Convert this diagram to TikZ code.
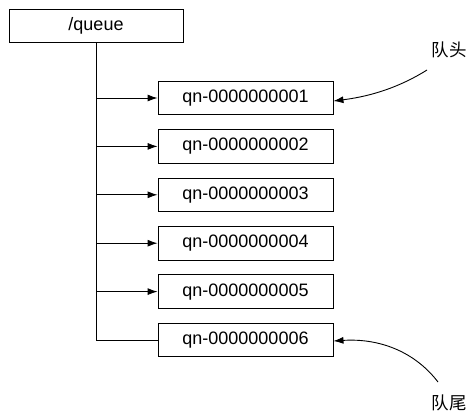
\documentclass[tikz,border=0pt]{standalone}
\usepackage{fontspec}
\setmainfont{Liberation Sans}
\newfontfamily\cjk{Noto Sans CJK SC}
\usetikzlibrary{arrows.meta,positioning}
\tikzset{
  znode/.style={rectangle,draw=black,line width=0.9pt,fill=white,minimum width=175pt,minimum height=33.5pt,inner sep=0pt,font=\fontsize{18}{20}\selectfont},
  rootbox/.style={znode,minimum width=174pt,minimum height=33pt},
  marker/.style={font=\cjk\fontsize{17.5}{20}\selectfont,inner sep=0pt},
  arrow/.style={-{Latex[length=10pt,width=7pt]},line width=0.9pt}
}

\begin{document}
\begin{tikzpicture}[x=1pt,y=-1pt,node distance=14pt]
    \useasboundingbox (0,0) rectangle (471,416);
    \node[rootbox] (root) at (96,25.5) {/queue};
    \node[znode] (q1) at (245.5,98) {qn-0000000001};
    \node[znode,below=of q1] (q2) {qn-0000000002};
    \node[znode,below=of q2] (q3) {qn-0000000003};
    \node[znode,below=of q3] (q4) {qn-0000000004};
    \node[znode,below=of q4] (q5) {qn-0000000005};
    \node[znode,below=of q5] (q6) {qn-0000000006};

    % trunk and branches
    \draw[line width=0.9pt] (root.south) -- (root.south |- q6.west) -- (q6.west);
    \draw[arrow] (root.south |- q1.west) -- (q1.west);
    \draw[arrow] (root.south |- q2.west) -- (q2.west);
    \draw[arrow] (root.south |- q3.west) -- (q3.west);
    \draw[arrow] (root.south |- q4.west) -- (q4.west);
    \draw[arrow] (root.south |- q5.west) -- (q5.west);

    \node[marker] (head) at (449,50) {队头};
    \node[marker] (tail) at (449,403) {队尾};
    \coordinate (headfrom) at (427,70);
    \coordinate (tailfrom) at (438,382);
    \draw[arrow] (headfrom) .. controls (395,90) and (365,97) .. ([yshift=-3pt]q1.east);
    \draw[arrow] (tailfrom) .. controls (415,352) and (380,338) .. ([yshift=-1pt]q6.east);
  \end{tikzpicture}
\end{document}
